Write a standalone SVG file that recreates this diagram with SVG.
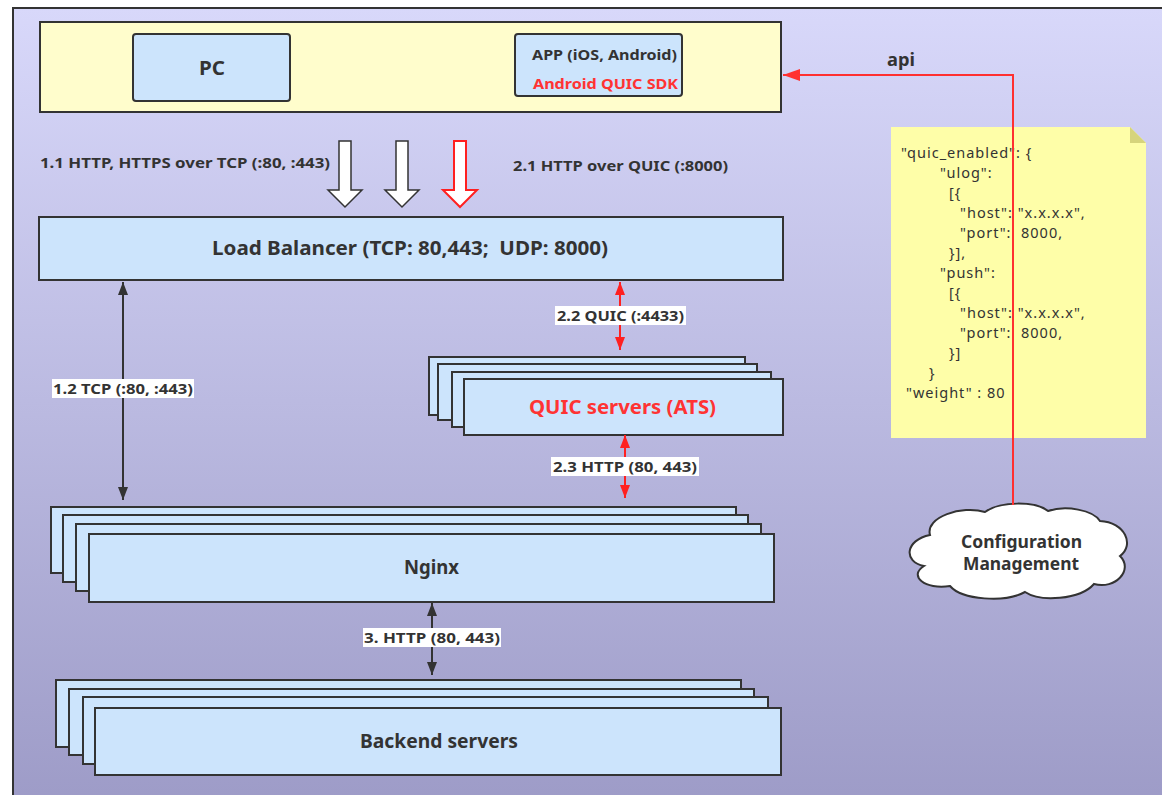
<svg xmlns="http://www.w3.org/2000/svg" width="1162" height="795" viewBox="0 0 1162 795">
<defs>
<linearGradient id="bg" x1="0" y1="0" x2="0" y2="1">
<stop offset="0" stop-color="#d8d8fa"/>
<stop offset="1" stop-color="#9d9bc7"/>
</linearGradient>
<marker id="ab" viewBox="0 0 13 10" refX="13" refY="5" markerWidth="13" markerHeight="10" markerUnits="userSpaceOnUse" orient="auto-start-reverse">
<path d="M0,0 L13,5 L0,10 Z" fill="#333"/>
</marker>
<marker id="ar" viewBox="0 0 13 10" refX="13" refY="5" markerWidth="13" markerHeight="10" markerUnits="userSpaceOnUse" orient="auto-start-reverse">
<path d="M0,0 L13,5 L0,10 Z" fill="#ff2020"/>
</marker>
<marker id="ar2" viewBox="0 0 17 12" refX="17" refY="6" markerWidth="17" markerHeight="12" markerUnits="userSpaceOnUse" orient="auto">
<path d="M0,0 L17,6 L0,12 Z" fill="#ff3030"/>
</marker>
</defs>
<style>
.box{fill:#cce4fc;stroke:#333;stroke-width:2}
.t{font-family:"Noto Sans","Open Sans",sans-serif;font-weight:bold;fill:#333}
.lbl{fill:#ffffff}
.note{font-family:"Noto Sans","Open Sans",sans-serif;font-size:14.5px;letter-spacing:1px;fill:#333}
.cb{stroke:#333;stroke-width:2;fill:none}
.cr{stroke:#ff2020;stroke-width:2;fill:none}
</style>
<rect x="0" y="0" width="1162" height="795" fill="#ffffff"/>
<rect id="frame" x="13" y="8" width="1170" height="800" fill="url(#bg)" stroke="#333" stroke-width="2"/>

<g id="clients">
<rect x="40" y="22" width="741" height="90" fill="#fffdcc" stroke="#333" stroke-width="2"/>
</g>
<g id="pc">
<rect class="box" x="133" y="34" width="157" height="67" rx="3"/>
<text class="t" x="199" y="75" font-size="19" textLength="26" lengthAdjust="spacingAndGlyphs">PC</text>
</g>
<g id="app">
<rect class="box" x="515" y="34" width="167" height="62" rx="3"/>
<text class="t" x="532" y="60" font-size="15" textLength="145" lengthAdjust="spacingAndGlyphs">APP (iOS, Android)</text>
<text class="t" x="533" y="89" font-size="15" textLength="145" lengthAdjust="spacingAndGlyphs" style="fill:#ff3333">Android QUIC SDK</text>
</g>

<g id="flow-arrows">
<path d="M339,141 H351 V190 H362 L345,207 L328,190 H339 Z" fill="#fff" stroke="#333" stroke-width="1.5"/>
<path d="M396,141 H408 V190 H419 L402,207 L385,190 H396 Z" fill="#fff" stroke="#333" stroke-width="1.5"/>
<path d="M454,141 H466 V190 H477 L460,207 L443,190 H454 Z" fill="#fff" stroke="#ff2020" stroke-width="2"/>
<text class="t" x="40" y="168" font-size="15" textLength="290" lengthAdjust="spacingAndGlyphs">1.1 HTTP, HTTPS over TCP (:80, :443)</text>
<text class="t" x="513" y="171" font-size="15" textLength="215" lengthAdjust="spacingAndGlyphs">2.1 HTTP over QUIC (:8000)</text>
</g>

<g id="lb">
<rect class="box" x="39" y="217" width="744" height="63"/>
<text class="t" x="212" y="255" font-size="19" textLength="396" lengthAdjust="spacingAndGlyphs" xml:space="preserve">Load Balancer (TCP: 80,443;  UDP: 8000)</text>
</g>

<g id="quic">
<rect class="box" x="429" y="357" width="316" height="58"/>
<rect class="box" x="438" y="364" width="319" height="56"/>
<rect class="box" x="452" y="372" width="319" height="55"/>
<rect class="box" x="464" y="379" width="319" height="56"/>
<text class="t" x="529" y="414" font-size="19" textLength="187" lengthAdjust="spacingAndGlyphs" style="fill:#ff3333">QUIC servers (ATS)</text>
</g>

<g id="nginx">
<rect class="box" x="51" y="507" width="685" height="66"/>
<rect class="box" x="63" y="515" width="685" height="67"/>
<rect class="box" x="76" y="524" width="685" height="67"/>
<rect class="box" x="89" y="534" width="685" height="68"/>
<text class="t" x="404" y="574" font-size="19" textLength="55" lengthAdjust="spacingAndGlyphs">Nginx</text>
</g>

<g id="backend">
<rect class="box" x="56" y="680" width="685" height="67"/>
<rect class="box" x="69" y="689" width="685" height="66"/>
<rect class="box" x="83" y="697" width="685" height="67"/>
<rect class="box" x="95" y="708" width="686" height="67"/>
<text class="t" x="360" y="748" font-size="19" textLength="158" lengthAdjust="spacingAndGlyphs">Backend servers</text>
</g>

<g id="note">
<path d="M891,127 H1130 L1146,143 V438 H891 Z" fill="#fefea8"/>
<path d="M1130,127 L1146,143 H1130 Z" fill="#d6d47c"/>
<text class="note" x="901" y="158">"quic_enabled": {</text>
<text class="note" x="940" y="178">"ulog":</text>
<text class="note" x="949" y="198">[{</text>
<text class="note" x="960" y="218">"host": "x.x.x.x",</text>
<text class="note" x="960" y="238" xml:space="preserve">"port":  8000,</text>
<text class="note" x="949" y="258">}],</text>
<text class="note" x="940" y="278">"push":</text>
<text class="note" x="949" y="298">[{</text>
<text class="note" x="960" y="318">"host": "x.x.x.x",</text>
<text class="note" x="960" y="338" xml:space="preserve">"port":  8000,</text>
<text class="note" x="949" y="358">}]</text>
<text class="note" x="929" y="378">}</text>
<text class="note" x="906" y="398">"weight" : 80</text>
</g>

<g id="config">
<path d="M930,535 C925,517 962,505 985,512 C1000,501 1035,501 1048,511 C1066,505 1093,510 1100,521 C1125,522 1135,545 1120,556 C1134,570 1115,590 1094,584 C1080,600 1040,602 1025,592 C1005,603 962,600 950,586 C925,590 908,576 924,566 C903,562 905,540 930,535 Z" fill="#ffffff" stroke="#333" stroke-width="2"/>
<text class="t" x="961" y="548" font-size="17" textLength="121" lengthAdjust="spacingAndGlyphs">Configuration</text>
<text class="t" x="963" y="570" font-size="17" textLength="116" lengthAdjust="spacingAndGlyphs">Management</text>
</g>

<g id="connectors">
<line class="cb" x1="123" y1="282" x2="123" y2="500" marker-start="url(#ab)" marker-end="url(#ab)"/>
<rect class="lbl" x="52" y="379" width="142" height="19"/>
<text class="t" x="53" y="394" font-size="15" textLength="140" lengthAdjust="spacingAndGlyphs">1.2 TCP (:80, :443)</text>

<line class="cr" x1="620" y1="282" x2="620" y2="350" marker-start="url(#ar)" marker-end="url(#ar)"/>
<rect class="lbl" x="555" y="306" width="131" height="19"/>
<text class="t" x="557" y="321" font-size="15" textLength="127" lengthAdjust="spacingAndGlyphs">2.2 QUIC (:4433)</text>

<line class="cr" x1="625" y1="435" x2="625" y2="498" marker-start="url(#ar)" marker-end="url(#ar)"/>
<rect class="lbl" x="551" y="457" width="148" height="19"/>
<text class="t" x="553" y="472" font-size="15" textLength="144" lengthAdjust="spacingAndGlyphs">2.3 HTTP (80, 443)</text>

<line class="cb" x1="432" y1="603" x2="432" y2="675" marker-start="url(#ab)" marker-end="url(#ab)"/>
<rect class="lbl" x="363" y="628" width="138" height="19"/>
<text class="t" x="364" y="643" font-size="15" textLength="136" lengthAdjust="spacingAndGlyphs">3. HTTP (80, 443)</text>

<path d="M1013,505 V75 H783" stroke="#ff3030" stroke-width="2" fill="none" marker-end="url(#ar2)"/>
<text class="t" x="887" y="66" font-size="17" textLength="28" lengthAdjust="spacingAndGlyphs">api</text>
</g>
</svg>
